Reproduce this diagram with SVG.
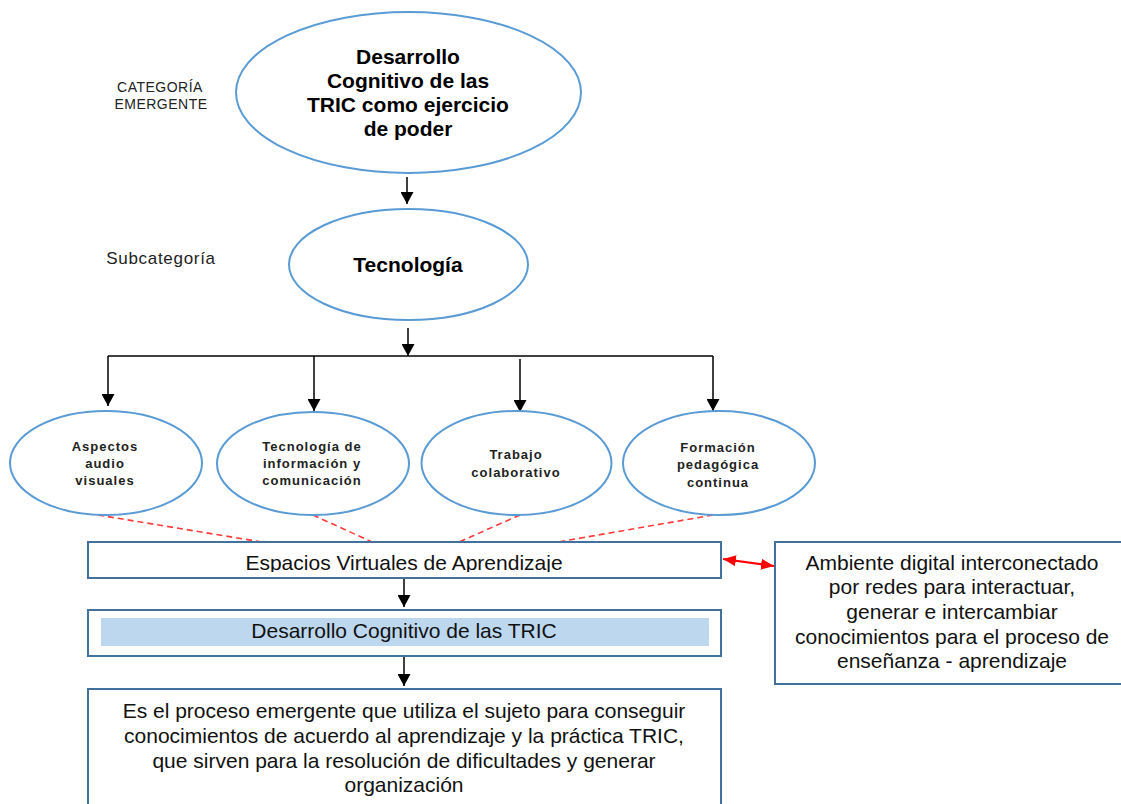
<svg xmlns="http://www.w3.org/2000/svg" width="1121" height="804" viewBox="0 0 1121 804">
<style>
.ell{fill:#fff;stroke:#5B9BD5;stroke-width:2}
.box{fill:#fff;stroke:#41719C;stroke-width:2}
.big{font-family:"Liberation Sans",Arial,sans-serif;font-weight:bold;font-size:21px;fill:#000;text-anchor:middle}
.small{font-family:"Liberation Sans",Arial,sans-serif;font-weight:bold;font-size:13px;letter-spacing:1px;fill:#222;text-anchor:middle}
.txt{font-family:"Liberation Sans",Arial,sans-serif;font-size:21px;fill:#111;text-anchor:middle}
.lbl{font-family:"Liberation Sans",Arial,sans-serif;fill:#222;text-anchor:middle}
.conn{stroke:#000;stroke-width:1.5;fill:none}
.dash{stroke:#FF3B3B;stroke-width:1.6;stroke-dasharray:6 4;fill:none}
</style>
<defs>
<marker id="ah" markerUnits="userSpaceOnUse" markerWidth="12" markerHeight="13" refX="12" refY="6.5" orient="auto">
<path d="M0,0 L12,6.5 L0,13 z" fill="#000"/>
</marker>
<marker id="rh" markerUnits="userSpaceOnUse" markerWidth="13" markerHeight="11" refX="13" refY="5.5" orient="auto-start-reverse">
<path d="M0,0 L13,5.5 L0,11 z" fill="#FF0000"/>
</marker>
<clipPath id="clipEsp"><rect x="88" y="540" width="632" height="32"/></clipPath>
</defs>

<g id="label-categoria">
<text class="lbl" x="160" y="92" font-size="14" letter-spacing="0.5">CATEGORÍA</text>
<text class="lbl" x="161" y="109" font-size="14" letter-spacing="0.5">EMERGENTE</text>
</g>
<g id="label-subcategoria">
<text class="lbl" x="161" y="264" font-size="17" letter-spacing="0.7">Subcategoría</text>
</g>

<g id="connectors">
<line class="conn" x1="407" y1="177" x2="407" y2="204" marker-end="url(#ah)"/>
<line class="conn" x1="408" y1="328" x2="408" y2="356" marker-end="url(#ah)"/>
<line class="conn" x1="108" y1="356" x2="713" y2="356"/>
<line class="conn" x1="108" y1="356" x2="108" y2="406" marker-end="url(#ah)"/>
<line class="conn" x1="314" y1="356" x2="314" y2="411" marker-end="url(#ah)"/>
<line class="conn" x1="520" y1="359" x2="520" y2="412" marker-end="url(#ah)"/>
<line class="conn" x1="713" y1="356" x2="713" y2="411" marker-end="url(#ah)"/>
<line class="dash" x1="98" y1="515" x2="262" y2="542"/>
<line class="dash" x1="313" y1="515" x2="372" y2="542"/>
<line class="dash" x1="520" y1="515" x2="459" y2="542"/>
<line class="dash" x1="713" y1="515" x2="558" y2="542"/>
<line class="conn" x1="404" y1="579" x2="404" y2="607" marker-end="url(#ah)"/>
<line class="conn" x1="404" y1="657" x2="404" y2="686" marker-end="url(#ah)"/>
<line x1="723" y1="559" x2="774" y2="566" stroke="#FF0000" stroke-width="2" marker-start="url(#rh)" marker-end="url(#rh)"/>
</g>

<g id="node-desarrollo">
<ellipse class="ell" cx="408.5" cy="92.5" rx="172.5" ry="80.5"/>
<text class="big" x="408" y="64">Desarrollo</text>
<text class="big" x="408" y="88">Cognitivo de las</text>
<text class="big" x="408" y="112">TRIC como ejercicio</text>
<text class="big" x="408" y="136">de poder</text>
</g>

<g id="node-tecnologia">
<ellipse class="ell" cx="408.5" cy="264.5" rx="119.5" ry="55.5"/>
<text class="big" x="408" y="272">Tecnología</text>
</g>

<g id="node-aspectos">
<ellipse class="ell" cx="106" cy="463" rx="96" ry="52"/>
<text class="small" x="105" y="451">Aspectos</text>
<text class="small" x="105" y="468">audio</text>
<text class="small" x="105" y="485">visuales</text>
</g>

<g id="node-tic">
<ellipse class="ell" cx="313" cy="463.5" rx="96" ry="51.5"/>
<text class="small" x="312" y="451">Tecnología de</text>
<text class="small" x="312" y="468">información y</text>
<text class="small" x="312" y="485">comunicación</text>
</g>

<g id="node-trabajo">
<ellipse class="ell" cx="516.5" cy="463" rx="95" ry="52"/>
<text class="small" x="516" y="459">Trabajo</text>
<text class="small" x="516" y="477">colaborativo</text>
</g>

<g id="node-formacion">
<ellipse class="ell" cx="719" cy="463" rx="96" ry="52"/>
<text class="small" x="718" y="452">Formación</text>
<text class="small" x="718" y="469">pedagógica</text>
<text class="small" x="718" y="487">continua</text>
</g>

<g id="node-espacios">
<rect class="box" x="88" y="542" width="633" height="36"/>
<text class="txt" x="404" y="570" clip-path="url(#clipEsp)">Espacios Virtuales de Aprendizaje</text>
</g>

<g id="node-ambiente">
<rect class="box" x="775" y="542" width="356" height="142"/>
<text class="txt" x="952" y="570">Ambiente digital interconectado</text>
<text class="txt" x="952" y="594">por redes para interactuar,</text>
<text class="txt" x="952" y="619">generar e intercambiar</text>
<text class="txt" x="952" y="644">conocimientos para el proceso de</text>
<text class="txt" x="952" y="668">enseñanza - aprendizaje</text>
</g>

<g id="node-desarrollo-tric">
<rect class="box" x="88" y="610" width="633" height="46"/>
<rect x="101" y="618" width="608" height="28" fill="#BDD7EE"/>
<text class="txt" x="404" y="638">Desarrollo Cognitivo de las TRIC</text>
</g>

<g id="node-definicion">
<rect class="box" x="88" y="689" width="633" height="130"/>
<text class="txt" x="404" y="718">Es el proceso emergente que utiliza el sujeto para conseguir</text>
<text class="txt" x="404" y="743">conocimientos de acuerdo al aprendizaje y la práctica TRIC,</text>
<text class="txt" x="404" y="768">que sirven para la resolución de dificultades y generar</text>
<text class="txt" x="404" y="792">organización</text>
</g>
</svg>
